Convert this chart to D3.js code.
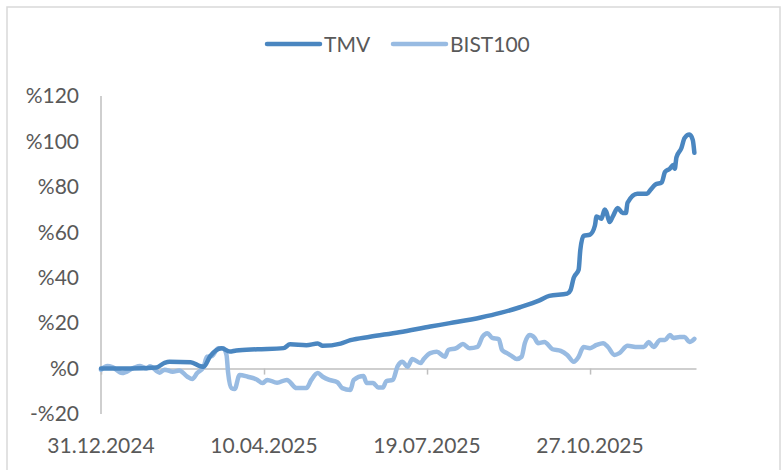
<!DOCTYPE html>
<html>
<head>
<meta charset="utf-8">
<script src="https://cdn.jsdelivr.net/npm/d3@7"></script>
<style>
  body { margin: 0; background: #fff; }
  text { font-family: Lato, "Open Sans", sans-serif; fill: #595959; }
</style>
</head>
<body>
<svg id="chart" width="783" height="470"></svg>
<script>
// days after 31.12.2024 and cumulative return (%)
var tmvDays = [0, 18, 34, 39, 42, 55, 61, 63, 67, 74, 79, 83, 96, 112, 116, 126, 133, 136, 147, 153,
  165, 183, 202, 214, 233, 245, 257, 269, 275, 286, 288, 290, 293, 294, 296, 300, 303, 304, 307, 309,
  310, 312, 314, 317, 320, 322, 323, 329, 335, 337, 340, 344, 346, 349, 351, 352, 353, 356, 358, 361, 363, 364];
var tmvValues = [0, 0, 0.5, 2.5, 3, 2.8, 1, 0.8, 5.5, 9, 7.5, 8, 8.5, 9, 10.7, 10.3, 11, 10, 11, 12.5,
  14, 16, 18.5, 20, 22.5, 24.5, 27, 30, 32, 33, 34.5, 40, 43.5, 52, 58.4, 59, 63, 67, 66, 70,
  69, 64.5, 67, 70.7, 68.5, 68.5, 73, 77, 77, 78.6, 81, 82, 86.6, 88, 89.6, 88, 93, 97, 101.5, 103, 100.7, 95];

var bistDays = [0, 4, 7, 13, 20, 24, 28, 30, 36, 39, 44, 48, 53, 56, 59, 63, 65, 68, 72, 75,
  77, 78, 80, 82, 85, 90, 96, 99, 102, 108, 114, 120, 126, 129, 133, 136, 140, 145, 148, 153,
  155, 161, 163, 167, 170, 173, 175, 179, 182, 185, 188, 191, 196, 198, 202, 206, 211, 213, 218, 222,
  226, 231, 234, 237, 240, 244, 246, 249, 252, 255, 258, 260, 263, 266, 268, 272, 277, 282, 286, 290,
  293, 296, 300, 304, 308, 311, 315, 318, 323, 329, 333, 336, 339, 343, 346, 349, 351, 355, 358, 361, 364];
var bistValues = [-0.5, 1.1, 0.6, -2, 0.3, 1.1, 0, 1, -1.8, -0.5, -1.4, -0.8, -3.6, -4.6, -2, 0.8, 5.2, 5.5, 9, 9,
  6, -2, -8.6, -9, -2.8, -3.6, -5, -6.4, -5, -6.2, -5, -8.6, -8.6, -5, -2, -3.6, -5, -6, -8.6, -9.4,
  -5, -3.3, -6.4, -6.4, -8.3, -8.3, -5.5, -5, 1.1, 3, 0.8, 4.2, 2.4, 4.2, 6.8, 7.4, 5.2, 8.2, 9, 10.8,
  9, 9.6, 14, 15.6, 13.5, 13, 8.2, 6.8, 5.5, 4.2, 5.2, 11.2, 14.8, 13.5, 11.2, 11.7, 8.5, 7.8, 6, 3,
  5.2, 9.5, 9, 10.4, 11.2, 9.5, 6, 6.8, 10, 9.5, 9.5, 11.7, 9.5, 12.6, 12.6, 14.8, 13.5, 13.9, 13.9, 11.7, 13.1];

var yTicks = [-20, 0, 20, 40, 60, 80, 100, 120];
var xTickDays = [0, 100, 200, 300];
var seriesNames = ["TMV", "BIST100"];
var seriesColors = ["#4a86c0", "#98bbe2"];

var svg = d3.select("#chart");
var start = new Date(2024, 11, 31);
var parse = function(d) { return d3.timeDay.offset(start, d); };

var x = d3.scaleTime().domain([start, parse(365)]).range([101, 696]),
    y = d3.scaleLinear().domain([-20, 120]).range([414, 96]);

// outer frame
svg.append("rect")
    .attr("x", 7).attr("y", 7)
    .attr("width", 773).attr("height", 480)
    .attr("fill", "none")
    .attr("stroke", "#d9d9d9")
    .attr("stroke-width", 1.5);

// y axis line and labels
svg.append("line")
    .attr("x1", 101).attr("x2", 101)
    .attr("y1", y(120)).attr("y2", y(-20))
    .attr("stroke", "#bfbfbf").attr("stroke-width", 1.5);

svg.selectAll(".ylab")
    .data(yTicks)
  .enter().append("text")
    .attr("class", "ylab")
    .attr("x", 79)
    .attr("y", function(d) { return y(d); })
    .attr("dy", "0.35em")
    .attr("text-anchor", "end")
    .style("font-size", "21px")
    .text(function(d) { return (d < 0 ? "-%" : "%") + Math.abs(d); });

// x axis on the zero line, ticks pointing down
var xAxis = svg.append("g")
    .attr("transform", "translate(0," + y(0) + ")")
    .call(d3.axisBottom(x)
      .tickValues(xTickDays.map(parse))
      .tickSize(6)
      .tickSizeOuter(0)
      .tickFormat(""));
xAxis.select(".domain").attr("stroke", "#bfbfbf").attr("stroke-width", 1.5);
xAxis.selectAll(".tick line").attr("stroke", "#bfbfbf").attr("stroke-width", 1.5);

svg.selectAll(".xlab")
    .data(xTickDays)
  .enter().append("text")
    .attr("class", "xlab")
    .attr("x", function(d) { return x(parse(d)); })
    .attr("y", 453)
    .attr("text-anchor", "middle")
    .style("font-size", "21px")
    .text(function(d) { return d3.timeFormat("%d.%m.%Y")(parse(d)); });

// lines
var line = d3.line()
    .x(function(d) { return x(parse(d[0])); })
    .y(function(d) { return y(d[1]); })
    .curve(d3.curveMonotoneX);

var tmv = d3.zip(tmvDays, tmvValues),
    bist = d3.zip(bistDays, bistValues);

[bist, tmv].forEach(function(data, i) {
  svg.append("path")
      .datum(data)
      .attr("fill", "none")
      .attr("stroke", seriesColors[1 - i])
      .attr("stroke-width", 4.5)
      .attr("stroke-linejoin", "round")
      .attr("stroke-linecap", "round")
      .attr("d", line);
});

// legend
var legendX = [267, 393];
var legend = svg.selectAll(".legend")
    .data(seriesNames)
  .enter().append("g")
    .attr("class", "legend")
    .attr("transform", function(d, i) { return "translate(" + legendX[i] + ",44)"; });

legend.append("line")
    .attr("x1", 0).attr("x2", 53)
    .attr("stroke", function(d, i) { return seriesColors[i]; })
    .attr("stroke-width", 4.5)
    .attr("stroke-linecap", "round");

legend.append("text")
    .attr("x", 57)
    .attr("y", 8)
    .style("font-size", "21px")
    .text(function(d) { return d; });
</script>
</body>
</html>
